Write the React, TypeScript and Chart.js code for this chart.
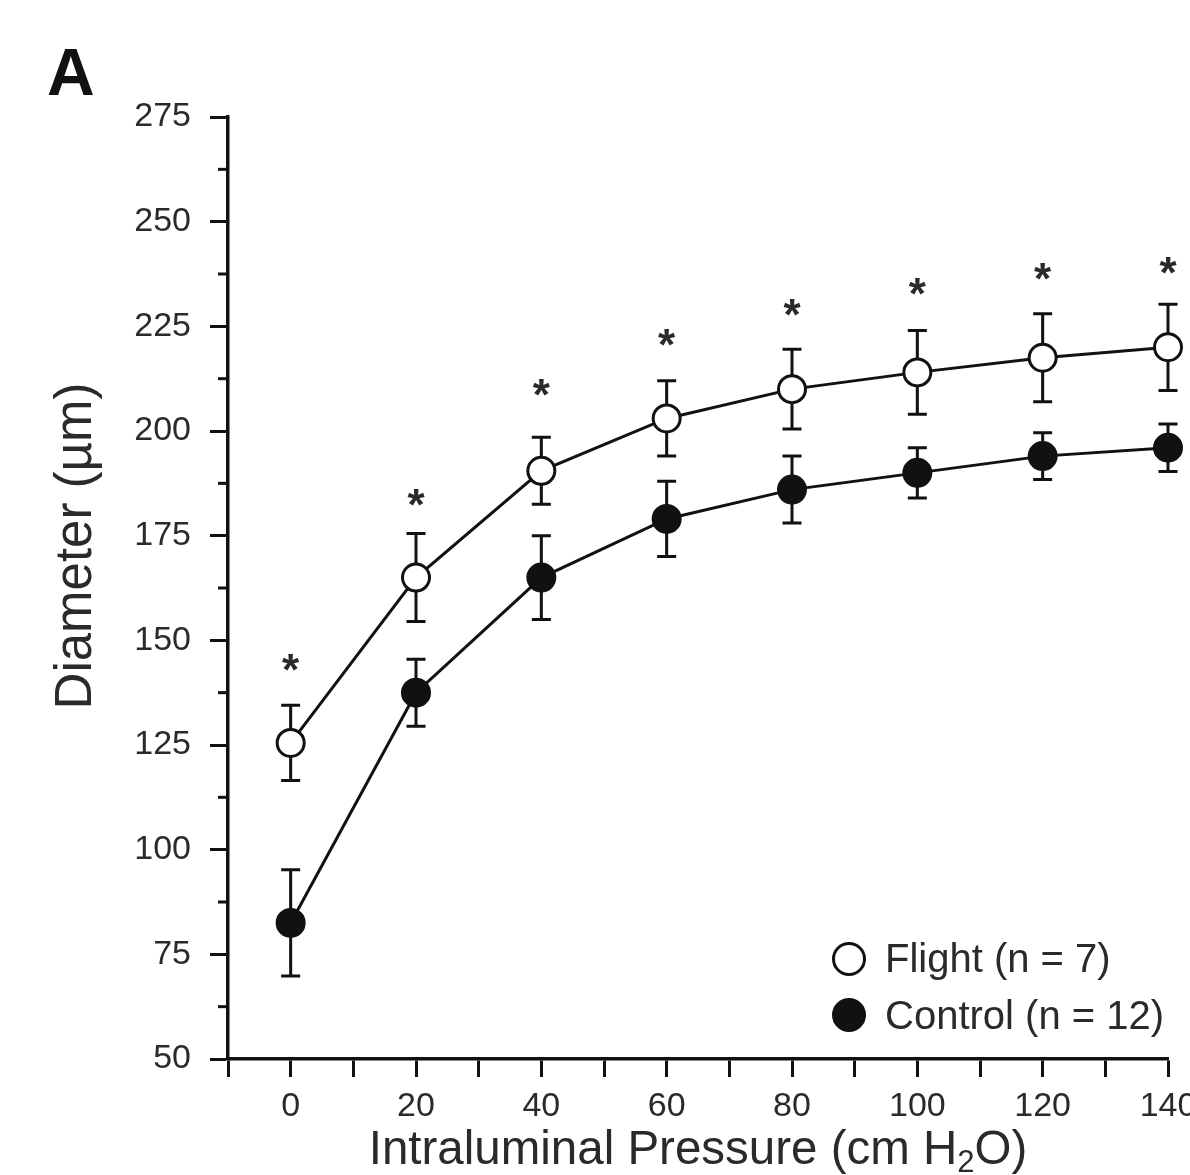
import React, { useEffect, useRef } from 'react';
import { Chart, registerables } from 'chart.js';

Chart.register(...registerables);

// ---- data ----
const PRESSURE = [0, 20, 40, 60, 80, 100, 120, 140];
const FLIGHT = [125.5, 165, 190.5, 203, 210, 214, 217.5, 220];
const FLIGHT_ERR = [9, 10.5, 8, 9, 9.5, 10, 10.5, 10.3];
const CONTROL = [82.5, 137.5, 165, 179, 186, 190, 194, 196];
const CONTROL_ERR = [12.7, 8, 10, 9, 8, 6, 5.6, 5.7];
const STAR_Y = [144.8, 184.2, 210.5, 222.4, 229.6, 234.6, 238, 239.6];
const FLIGHT_LABEL = 'Flight (n = 7)';
const CONTROL_LABEL = 'Control (n = 12)';
const X_TITLE_PARTS = ['Intraluminal Pressure (cm H', '2', 'O)'];
const Y_TITLE = 'Diameter (µm)';
const PANEL = 'A';

const FONT = '"Liberation Sans", Arial, Helvetica, sans-serif';
const INK = '#111';
const TEXT = '#2a2a2a';

export default function App() {
  const ref = useRef<HTMLCanvasElement>(null);

  useEffect(() => {
    const canvas = ref.current;
    if (!canvas) return;

    const errs = [FLIGHT_ERR, CONTROL_ERR];

    const decor = {
      id: 'decor',
      beforeDatasetsDraw(chart: any) {
        const ctx = chart.ctx;
        const xs = chart.scales.x;
        const ys = chart.scales.y;
        ctx.save();
        ctx.strokeStyle = INK;
        ctx.lineWidth = 3;
        chart.data.datasets.forEach((ds: any, di: number) => {
          ds.data.forEach((p: any, i: number) => {
            const e = errs[di][i];
            const px = xs.getPixelForValue(p.x);
            const top = ys.getPixelForValue(p.y + e);
            const bot = ys.getPixelForValue(p.y - e);
            ctx.beginPath();
            ctx.moveTo(px, top);
            ctx.lineTo(px, bot);
            ctx.moveTo(px - 9.5, top);
            ctx.lineTo(px + 9.5, top);
            ctx.moveTo(px - 9.5, bot);
            ctx.lineTo(px + 9.5, bot);
            ctx.stroke();
          });
        });
        ctx.restore();
      },
      afterDraw(chart: any) {
        const ctx = chart.ctx;
        const xs = chart.scales.x;
        const ys = chart.scales.y;
        const area = chart.chartArea;
        ctx.save();

        // minor y ticks (short)
        ctx.strokeStyle = INK;
        ctx.lineWidth = 3;
        ys.ticks.forEach((t: any) => {
          if (Math.abs(t.value % 25) > 1e-6) {
            const py = ys.getPixelForValue(t.value);
            ctx.beginPath();
            ctx.moveTo(area.left - 10, py);
            ctx.lineTo(area.left, py);
            ctx.stroke();
          }
        });

        // significance stars
        ctx.fillStyle = TEXT;
        ctx.font = `bold 44px ${FONT}`;
        ctx.textAlign = 'center';
        ctx.textBaseline = 'alphabetic';
        const m = ctx.measureText('*');
        const off = (m.actualBoundingBoxAscent - m.actualBoundingBoxDescent) / 2;
        PRESSURE.forEach((x, i) => {
          const px = xs.getPixelForValue(x);
          const py = ys.getPixelForValue(STAR_Y[i]);
          ctx.fillText('*', px, py + off);
        });

        // legend
        const dsF = chart.data.datasets[0];
        const dsC = chart.data.datasets[1];
        const items = [
          { ds: dsF, label: FLIGHT_LABEL, cy: 959, base: 972 },
          { ds: dsC, label: CONTROL_LABEL, cy: 1015, base: 1029 },
        ];
        items.forEach((it) => {
          ctx.beginPath();
          ctx.arc(849, it.cy, 15.5, 0, Math.PI * 2);
          ctx.fillStyle = it.ds.pointBackgroundColor;
          ctx.fill();
          ctx.lineWidth = 3;
          ctx.strokeStyle = INK;
          ctx.stroke();
          ctx.fillStyle = TEXT;
          ctx.font = `40px ${FONT}`;
          ctx.textAlign = 'left';
          ctx.textBaseline = 'alphabetic';
          ctx.fillText(it.label, 885, it.base);
        });

        // x title with subscript
        const big = `47.5px ${FONT}`;
        const small = `31px ${FONT}`;
        ctx.font = big;
        const w0 = ctx.measureText(X_TITLE_PARTS[0]).width;
        const w2 = ctx.measureText(X_TITLE_PARTS[2]).width;
        ctx.font = small;
        const w1 = ctx.measureText(X_TITLE_PARTS[1]).width;
        const total = w0 + w1 + w2;
        let sx = 698 - total / 2;
        const base = 1164;
        ctx.textAlign = 'left';
        ctx.fillStyle = TEXT;
        ctx.font = big;
        ctx.fillText(X_TITLE_PARTS[0], sx, base);
        sx += w0;
        ctx.font = small;
        ctx.fillText(X_TITLE_PARTS[1], sx, base + 8);
        sx += w1;
        ctx.font = big;
        ctx.fillText(X_TITLE_PARTS[2], sx, base);

        // y title
        ctx.save();
        ctx.translate(91, 546);
        ctx.rotate(-Math.PI / 2);
        ctx.font = `51px ${FONT}`;
        ctx.textAlign = 'center';
        ctx.fillText(Y_TITLE, 0, 0);
        ctx.restore();

        // panel letter
        ctx.fillStyle = '#111';
        ctx.font = `bold 66px ${FONT}`;
        ctx.textAlign = 'left';
        ctx.fillText(PANEL, 47, 95);

        ctx.restore();
      },
    };

    const chart = new Chart(canvas, {
      type: 'line',
      data: {
        datasets: [
          {
            label: FLIGHT_LABEL,
            data: PRESSURE.map((x, i) => ({ x, y: FLIGHT[i] })),
            borderColor: INK,
            borderWidth: 3,
            pointRadius: 13.5,
            pointBorderWidth: 3,
            pointBackgroundColor: '#ffffff',
            pointBorderColor: INK,
            tension: 0,
            fill: false,
            clip: false,
          },
          {
            label: CONTROL_LABEL,
            data: PRESSURE.map((x, i) => ({ x, y: CONTROL[i] })),
            borderColor: INK,
            borderWidth: 3,
            pointRadius: 14,
            pointBorderWidth: 2,
            pointBackgroundColor: INK,
            pointBorderColor: INK,
            tension: 0,
            fill: false,
            clip: false,
          },
        ],
      },
      options: {
        responsive: false,
        animation: false,
        events: [],
        layout: { padding: { left: 0, top: 117, right: 22, bottom: 0 } },
        plugins: {
          legend: { display: false },
          tooltip: { enabled: false },
          title: { display: false },
        },
        scales: {
          x: {
            type: 'linear',
            min: -10,
            max: 140,
            afterFit(s: any) {
              s.height = 116;
              s.paddingLeft = 0;
              s.paddingRight = 0;
            },
            ticks: {
              stepSize: 10,
              autoSkip: false,
              maxRotation: 0,
              padding: 9,
              color: TEXT,
              font: { size: 34, family: FONT },
              callback: (v: any) => (Number(v) % 20 === 0 ? String(v) : ''),
            },
            grid: {
              drawOnChartArea: false,
              drawTicks: true,
              tickLength: 18,
              tickWidth: 3,
              tickColor: INK,
            },
            border: { display: true, width: 3.5, color: INK },
          },
          y: {
            type: 'linear',
            min: 50,
            max: 275,
            afterFit(s: any) {
              s.width = 228;
              s.paddingTop = 0;
              s.paddingBottom = 0;
            },
            ticks: {
              stepSize: 12.5,
              autoSkip: false,
              padding: 19,
              color: TEXT,
              font: { size: 34, family: FONT },
              callback: (v: any) => (Math.abs(Number(v) % 25) < 1e-6 ? String(v) : ''),
            },
            grid: {
              drawOnChartArea: false,
              drawTicks: true,
              tickLength: 18,
              tickWidth: 3,
              tickColor: (c: any) =>
                c.tick && Math.abs(c.tick.value % 25) < 1e-6 ? INK : 'rgba(0,0,0,0)',
            },
            border: { display: true, width: 3.5, color: INK },
          },
        },
      },
      plugins: [decor],
    } as any);

    return () => chart.destroy();
  }, []);

  return (
    <div style={{ position: 'absolute', left: 0, top: 0, width: 1190, height: 1175, background: '#fff' }}>
      <canvas ref={ref} width={1190} height={1175} style={{ display: 'block' }} />
    </div>
  );
}
